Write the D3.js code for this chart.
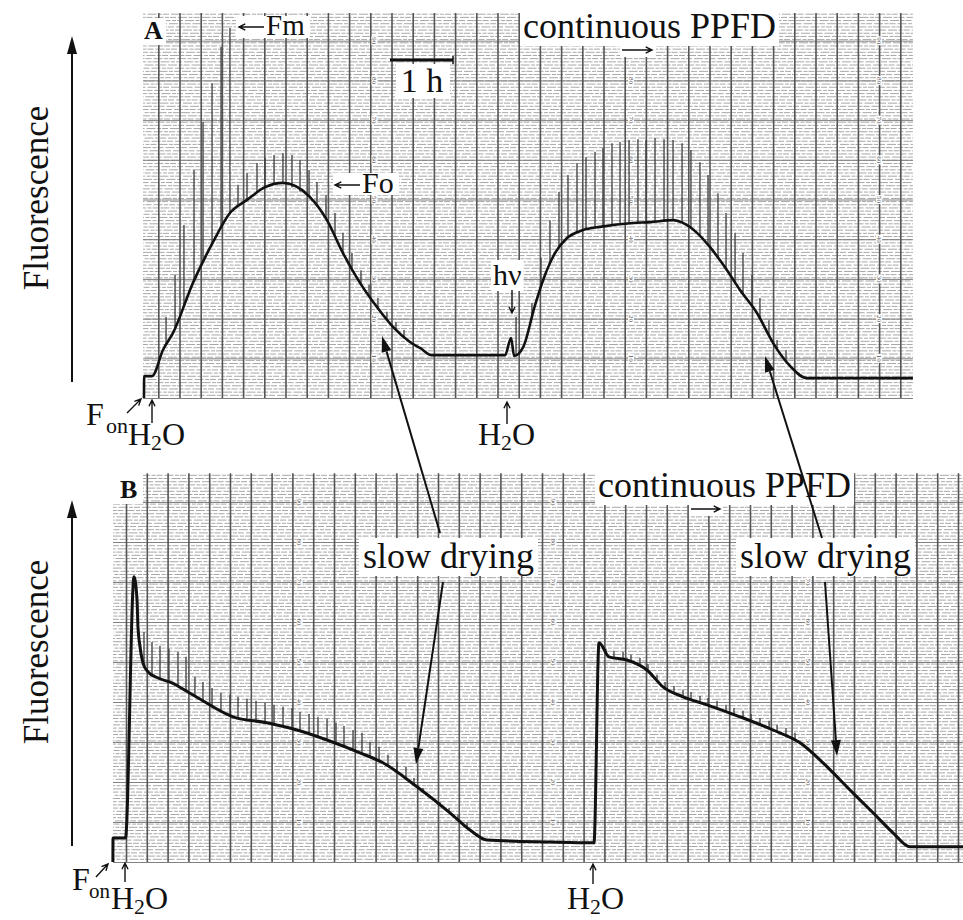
<!DOCTYPE html>
<html>
<head>
<meta charset="utf-8">
<script src="https://cdn.jsdelivr.net/npm/d3@7"></script>
<style>
  body { margin: 0; background: #fff; }
  svg { display: block; }
</style>
</head>
<body>
<svg id="chart" width="963" height="920"></svg>
<script>
const FONT = '"Liberation Serif", "Times New Roman", serif';

// ---- panel A (time in min, fluorescence in chart divisions 0-100) ----
const traceA_t = [6.5, 6.6, 14.1, 24.4, 33.9, 52.7, 70.7, 87.6, 103.7, 120.7, 137.6, 163.1, 179.1, 194.2, 210.3,
  226.3, 241.4, 257.4, 266.9, 278.2, 347.1, 352.8, 355.7, 364.2, 375.4, 384.8, 394.2, 405.6, 420.7, 436.7,
  467.8, 483.9, 505.6, 515.0, 528.2, 540.5, 556.5, 568.8, 584.8, 599.9, 615.9, 632.0, 731.9];
const traceA_F = [0, 5.5, 5.5, 12.1, 16.4, 29.0, 38.8, 46.6, 49.9, 53.1, 54.2, 50.6, 44.8, 36.5, 29.0,
  22.9, 17.9, 14.1, 12.6, 10.8, 10.8, 15.1, 10.6, 12.8, 23.4, 31.0, 36.5, 40.3, 42.3, 43.1,
  44.1, 44.3, 44.8, 44.1, 41.6, 38.0, 32.2, 27.2, 21.4, 13.9, 8.1, 5.0, 5.0];

// saturating flashes (Fm) in panel A
const spikeA_t = [27.3, 35.8, 44.2, 53.7, 62.2, 70.7, 79.2, 87.6, 95.2, 103.7, 113.1, 120.7, 129.2, 137.6,
  146.1, 153.7, 162.2, 169.7, 178.2, 186.7, 194.2, 202.7, 211.2, 218.8, 227.2, 235.7, 244.2, 251.8,
  357.5, 372.5, 381.0, 389.5, 398.0, 406.5, 415.0, 423.5, 432.0, 439.5, 448.0, 455.6, 464.1, 472.5,
  480.1, 488.6, 497.1, 505.6, 514.1, 522.5, 531.0, 538.6, 548.0, 555.6, 564.1, 571.6, 580.1, 587.6,
  596.1, 603.7, 612.2];
const spikeA_F = [20.4, 31.0, 43.6, 57.4, 69.5, 79.3, 88.4, 93.2, 53.7, 56.7, 59.2, 60.5, 61.2, 61.7,
  61.2, 59.9, 57.4, 54.4, 51.1, 46.6, 41.6, 36.5, 32.2, 28.5, 25.2, 21.7, 19.1, 17.1,
  20.4, 23.9, 35.3, 44.8, 51.9, 56.2, 59.2, 60.7, 62.0, 63.0, 64.2, 64.5, 65.0, 65.2,
  65.0, 65.5, 65.2, 65.0, 64.2, 62.5, 59.4, 56.2, 51.6, 46.6, 41.6, 36.5, 31.0, 25.2,
  19.6, 14.6, 12.1];

// ---- panel B ----
const traceB_t = [7.4, 7.5, 19.5, 27.7, 30.6, 31.5, 33.5, 36.3, 41.2, 50.8, 64.2, 79.6, 96.0, 105.6, 122.9,
  155.6, 184.4, 213.3, 245.0, 267.1, 299.8, 331.5, 350.8, 367.1, 427.7, 470.0, 474.8, 484.4, 501.7,
  520.9, 536.3, 555.6, 578.7, 610.4, 642.1, 668.1, 690.2, 716.2, 738.3, 757.5, 773.8, 824.8];
const traceB_F = [0, 6.0, 6.0, 71.3, 65.5, 58.8, 53.8, 49.8, 47.5, 46.0, 44.8, 42.5, 40.0, 38.5, 36.3,
  34.8, 33.0, 30.5, 27.3, 24.8, 18.8, 12.3, 8.0, 5.5, 5.0, 4.8, 54.8, 51.3, 50.5,
  48.0, 43.8, 41.3, 39.3, 36.3, 33.0, 29.8, 24.8, 18.0, 12.3, 7.3, 3.8, 3.8];

const spikeB_t = [37.3, 45.0, 52.7, 61.3, 70.0, 77.7, 86.3, 94.0, 102.7, 111.3, 120.0, 127.7, 136.3, 145.0,
  153.7, 162.3, 171.0, 179.6, 187.3, 196.0, 204.6, 213.3, 221.9, 229.6, 238.3, 246.9, 254.6, 263.3,
  271.9, 280.6, 289.2, 296.9, 305.6, 314.2, 321.9, 330.6, 339.2, 347.9,
  481.5, 489.2, 497.9, 505.6, 514.2, 521.9, 530.6, 538.3, 546.9, 555.6, 563.3, 571.9, 579.6, 588.3,
  596.9, 604.6, 613.3, 621.0, 629.6, 638.3, 646.0, 654.6, 663.3];
const spikeB_F = [57.5, 55.0, 54.0, 53.3, 52.5, 51.3, 46.3, 45.0, 43.5, 42.3, 41.8, 41.3, 40.8, 40.3,
  39.8, 39.3, 38.8, 38.5, 37.5, 37.0, 36.3, 35.8, 34.8, 34.0, 33.0, 32.3, 30.0, 28.8,
  26.8, 25.0, 23.8, 21.0, 18.5, 16.3, 15.0, 13.5, 11.8, 9.8,
  53.3, 52.8, 52.5, 51.8, 51.0, 49.5, 46.8, 45.0, 44.0, 43.0, 42.5, 41.5, 41.0, 40.3,
  39.3, 38.5, 37.8, 37.0, 36.0, 35.3, 34.3, 33.5, 32.3];

// chart paper: printed scale numbers and their columns
const scaleNumbers = [10, 20, 30, 40, 50, 60, 70, 80, 90];
const colsA = [224, 466, 700];
const colsB = [187, 431, 676];

const paperA = { t0: 5.6, t1: 731.9, f1: 97 };
const paperB = { t0: 7.5, t1: 824.8, f1: 97.2 };

const xA = d3.scaleLinear().domain([0, 740]).range([137.1, 921.5]);
const yA = d3.scaleLinear().domain([0, 100]).range([398, 1]);
const xB = d3.scaleLinear().domain([0, 820]).range([105.2, 958.0]);
const yB = d3.scaleLinear().domain([0, 100]).range([862, 462]);

const svg = d3.select("#chart");
svg.append("rect").attr("width", 963).attr("height", 920).attr("fill", "#fff");

function drawPanel(x, y, paper, tr_t, tr_F, sp_t, sp_F, cols, traceW) {
  const g = svg.append("g");
  const left = x(paper.t0), right = x(paper.t1), top = y(paper.f1), bottom = y(0);

  // fine horizontal rulings (broken, like the scanned paper)
  g.append("g")
    .attr("transform", `translate(${left},0)`)
    .call(d3.axisLeft(y).tickValues(d3.range(0, paper.f1, 0.8)).tickSize(-(right - left)).tickFormat(""))
    .call(a => a.select(".domain").remove())
    .selectAll("line")
      .attr("stroke", "#9e9e9e")
      .attr("stroke-width", 0.9)
      .attr("stroke-dasharray", "9,1.5,4,1,6,2")
      .attr("stroke-dashoffset", (d, i) => (i * 7) % 23);

  // heavier line every 10 divisions
  g.append("g")
    .attr("transform", `translate(${left},0)`)
    .call(d3.axisLeft(y).tickValues(d3.range(0, paper.f1, 10)).tickSize(-(right - left)).tickFormat(""))
    .call(a => a.select(".domain").remove())
    .selectAll("line").attr("stroke", "#808080").attr("stroke-width", 1);

  // time lines every 20 min
  const times = d3.range(20, paper.t1, 20).filter(t => t > paper.t0);
  g.append("g")
    .attr("transform", `translate(0,${bottom})`)
    .call(d3.axisBottom(x).tickValues(times).tickSize(-(bottom - top)).tickFormat(""))
    .call(a => a.select(".domain").remove())
    .selectAll("line").attr("stroke", "#555").attr("stroke-width", 1.6);

  // printed scale numbers in a few columns
  cols.forEach(t => {
    scaleNumbers.forEach(v => {
      const cx = x(t), cy = y(v);
      g.append("rect").attr("x", cx - 3).attr("y", cy - 4.5).attr("width", 6).attr("height", 9).attr("fill", "#fff");
      g.append("text")
        .attr("transform", `translate(${cx - 2.5},${cy}) rotate(90)`)
        .attr("text-anchor", "middle")
        .attr("font-family", FONT).attr("font-size", 7).attr("fill", "#555")
        .text(v);
    });
  });

  // flashes
  const base = d3.scaleLinear().domain(tr_t).range(tr_F);
  g.append("g").selectAll("line")
    .data(sp_t.map((t, i) => [t, sp_F[i]]))
    .join("line")
      .attr("x1", d => x(d[0])).attr("x2", d => x(d[0]))
      .attr("y1", d => y(base(d[0]))).attr("y2", d => y(d[1]))
      .attr("stroke", "#3c3c3c").attr("stroke-width", 1.3);

  // recorder trace
  const line = d3.line().x(d => x(d[0])).y(d => y(d[1])).curve(d3.curveMonotoneX);
  g.append("path")
    .attr("d", line(tr_t.map((t, i) => [t, tr_F[i]])))
    .attr("fill", "none").attr("stroke", "#111").attr("stroke-width", traceW)
    .attr("stroke-linejoin", "round");
}

drawPanel(xA, yA, paperA, traceA_t, traceA_F, spikeA_t, spikeA_F, colsA, 2.6);
drawPanel(xB, yB, paperB, traceB_t, traceB_F, spikeB_t, spikeB_F, colsB, 3);

// ---- annotations ----
const ann = svg.append("g").attr("font-family", FONT).attr("fill", "#111");

function label(x, y, str, size, opts = {}) {
  const t = ann.append("text").attr("x", x).attr("y", y).attr("font-size", size);
  if (opts.bold) t.attr("font-weight", "bold");
  if (opts.anchor) t.attr("text-anchor", opts.anchor);
  if (opts.sub) {
    // [main, subscript, rest]
    t.append("tspan").text(opts.sub[0]);
    t.append("tspan").attr("font-size", size * 0.68).attr("dy", size * 0.17).text(opts.sub[1]);
    if (opts.sub[2]) t.append("tspan").attr("dy", -size * 0.17).text(opts.sub[2]);
  } else {
    t.text(str);
  }
  if (opts.bg) {
    const b = t.node().getBBox();
    const p = opts.pad || 2;
    ann.insert("rect", () => t.node())
      .attr("x", b.x - p).attr("y", b.y + 2).attr("width", b.width + 2 * p).attr("height", b.height - 2)
      .attr("fill", "#fff");
  }
  return t;
}

function openArrow(x1, y1, x2, y2, w = 1.4, head = 7) {
  const a = Math.atan2(y2 - y1, x2 - x1);
  const p = d3.path();
  p.moveTo(x1, y1); p.lineTo(x2, y2);
  p.moveTo(x2 - head * Math.cos(a - 0.45), y2 - head * Math.sin(a - 0.45));
  p.lineTo(x2, y2);
  p.lineTo(x2 - head * Math.cos(a + 0.45), y2 - head * Math.sin(a + 0.45));
  ann.append("path").attr("d", p.toString()).attr("fill", "none").attr("stroke", "#111").attr("stroke-width", w);
}

function solidArrow(x1, y1, x2, y2, w = 2, len = 16, half = 5) {
  const a = Math.atan2(y2 - y1, x2 - x1);
  const bx = x2 - len * Math.cos(a), by = y2 - len * Math.sin(a);
  ann.append("line").attr("x1", x1).attr("y1", y1).attr("x2", bx).attr("y2", by)
    .attr("stroke", "#111").attr("stroke-width", w);
  const p = d3.path();
  p.moveTo(x2, y2);
  p.lineTo(bx + half * Math.sin(a), by - half * Math.cos(a));
  p.lineTo(bx - half * Math.sin(a), by + half * Math.cos(a));
  p.closePath();
  ann.append("path").attr("d", p.toString()).attr("fill", "#111");
}

// white patches on the paper where labels sit
label(144, 39, "A", 26, { bold: true, bg: true, pad: 3 });
ann.append("rect").attr("x", 113).attr("y", 472).attr("width", 30).attr("height", 32).attr("fill", "#fff");
label(120, 498, "B", 26, { bold: true });

// y axis arrows and titles
solidArrow(72, 382, 72, 36, 2, 18, 5);
solidArrow(72, 846, 72, 500, 2, 18, 5);
ann.append("text").attr("transform", "translate(48,198) rotate(-90)")
  .attr("text-anchor", "middle").attr("font-size", 35).text("Fluorescence");
ann.append("text").attr("transform", "translate(48,652) rotate(-90)")
  .attr("text-anchor", "middle").attr("font-size", 35).text("Fluorescence");

// panel A labels
ann.append("rect").attr("x", 236).attr("y", 16).attr("width", 74).attr("height", 22).attr("fill", "#fff");
label(266, 35, "Fm", 29);
openArrow(264, 27, 239, 27);

ann.append("rect").attr("x", 396).attr("y", 64).attr("width", 54).attr("height", 34).attr("fill", "#fff");
ann.append("line").attr("x1", 390).attr("x2", 453).attr("y1", 60).attr("y2", 60).attr("stroke", "#111").attr("stroke-width", 3);
ann.append("line").attr("x1", 453).attr("x2", 453).attr("y1", 56).attr("y2", 64).attr("stroke", "#111").attr("stroke-width", 1.5);
label(422, 92, "1 h", 34, { anchor: "middle" });

label(523, 38, "continuous PPFD", 36, { bg: true, pad: 3 });
ann.append("rect").attr("x", 620).attr("y", 43).attr("width", 36).attr("height", 14).attr("fill", "#fff");
openArrow(622, 50, 652, 50);

ann.append("rect").attr("x", 333).attr("y", 173).attr("width", 66).attr("height", 22).attr("fill", "#fff");
label(362, 193, "Fo", 30);
openArrow(360, 185, 335, 185);

label(493, 285, "hν", 30, { bg: true, pad: 2 });
openArrow(512, 290, 512, 313);

// under panel A
label(86, 425, "F", 32);
label(106, 433, "on", 22);
label(128, 445, "", 32, { sub: ["H", "2", "O"] });
openArrow(127, 413, 141, 399);
openArrow(152, 423, 152, 400);
label(478, 445, "", 32, { sub: ["H", "2", "O"] });
openArrow(507, 424, 507, 402);

// panel B labels
label(598, 497, "continuous PPFD", 36, { bg: true, pad: 3 });
ann.append("rect").attr("x", 689).attr("y", 502).attr("width", 34).attr("height", 14).attr("fill", "#fff");
openArrow(691, 509, 720, 509);

label(363, 568, "slow drying", 36, { bg: true, pad: 4 });
label(740, 568, "slow drying", 36, { bg: true, pad: 4 });

// under panel B
label(72, 890, "F", 32);
label(89, 898, "on", 21);
label(111, 909, "", 32, { sub: ["H", "2", "O"] });
openArrow(96, 877, 108, 864);
openArrow(125, 882, 125, 863);
label(567, 909, "", 32, { sub: ["H", "2", "O"] });
openArrow(593, 884, 593, 864);

// long pointer arrows
solidArrow(440, 533, 382, 336);
solidArrow(822, 538, 765, 356);
solidArrow(443, 582, 416, 764);
solidArrow(825, 582, 837, 756);
</script>
</body>
</html>
